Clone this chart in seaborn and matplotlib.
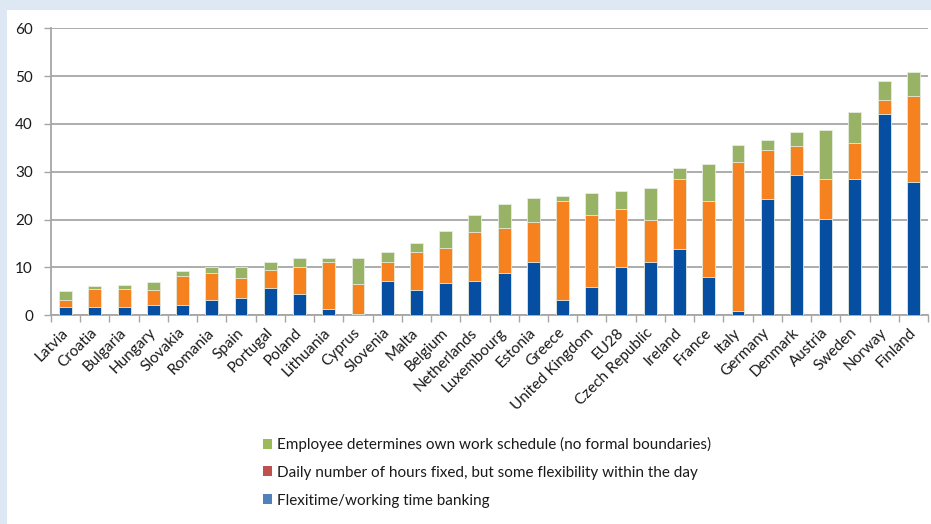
import matplotlib
matplotlib.use("Agg")
import matplotlib.pyplot as plt
import seaborn as sns
import pandas as pd
import numpy as np
from matplotlib.patches import Patch, Rectangle

countries = ["Latvia", "Croatia", "Bulgaria", "Hungary", "Slovakia", "Romania", "Spain",
             "Portugal", "Poland", "Lithuania", "Cyprus", "Slovenia", "Malta", "Belgium",
             "Netherlands", "Luxembourg", "Estonia", "Greece", "United Kingdom", "EU28",
             "Czech Republic", "Ireland", "France", "Italy", "Germany", "Denmark", "Austria",
             "Sweden", "Norway", "Finland"]
flexitime = [1.7, 1.8, 1.8, 2.1, 2.2, 3.2, 3.7, 5.8, 4.5, 1.3, 0.3, 7.2, 5.2, 6.7,
             7.2, 8.9, 11.1, 3.2, 5.9, 10.2, 11.2, 13.9, 8.1, 1.0, 24.3, 29.3, 20.2,
             28.4, 42.0, 27.9]
daily_fixed = [1.6, 3.8, 3.7, 3.1, 6.1, 5.6, 4.0, 3.6, 5.7, 9.8, 6.3, 4.0, 8.0, 7.3,
               10.3, 9.3, 8.5, 20.8, 15.0, 12.0, 8.7, 14.5, 15.7, 31.0, 10.3, 6.0, 8.3,
               7.6, 3.0, 17.9]
own_schedule = [1.7, 0.5, 0.9, 1.8, 1.0, 1.2, 2.4, 1.7, 1.7, 0.9, 5.4, 2.1, 2.0, 3.6,
                3.4, 5.0, 4.9, 0.9, 4.6, 3.7, 6.7, 2.3, 7.8, 3.5, 2.0, 3.0, 10.2,
                6.4, 4.0, 5.1]
legend_labels = ["Employee determines own work schedule (no formal boundaries)",
                 "Daily number of hours fixed, but some flexibility within the day",
                 "Flexitime/working time banking"]
y_ticks = [0, 10, 20, 30, 40, 50, 60]

df = pd.DataFrame({"country": countries, "flexi": flexitime,
                   "daily": daily_fixed, "own": own_schedule})
df["lvl_blue"] = df["flexi"]
df["lvl_orange"] = df["flexi"] + df["daily"]
df["lvl_green"] = df["lvl_orange"] + df["own"]

sns.set_theme(style="white")
plt.rcParams["font.family"] = ["Lato", "DejaVu Sans"]

W, H = 931, 524
fig = plt.figure(figsize=(W / 100, H / 100), dpi=100, facecolor="white")
# light blue frame strips
bg = "#DEE8F4"
fig.patches.append(Rectangle((0, 1 - 10 / H), 1, 10 / H, transform=fig.transFigure,
                             facecolor=bg, edgecolor="none", zorder=0))
fig.patches.append(Rectangle((0, 0), 7 / W, 1, transform=fig.transFigure,
                             facecolor=bg, edgecolor="none", zorder=0))

left, right = 51 / W, 928 / W
bottom, top = (H - 315.3) / H, (H - 28.3) / H
ax = fig.add_axes([left, bottom, right - left, top - bottom])
ax.set_facecolor("white")

c_green, c_orange, c_blue = "#98B365", "#F5821F", "#054EA2"
for col, c in [("lvl_green", c_green), ("lvl_orange", c_orange), ("lvl_blue", c_blue)]:
    sns.barplot(data=df, x="country", y=col, color=c, saturation=1, width=0.44,
                edgecolor="#E6EDE0", linewidth=0.6, ax=ax, zorder=3)

ax.set_xlim(-0.5, len(countries) - 0.5)
ax.set_ylim(0, 60)
ax.set_yticks(y_ticks)
ax.set_xlabel("")
ax.set_ylabel("")
grid_c = "#A6A6A6"
ax.yaxis.grid(True, color=grid_c, linewidth=1.3, zorder=0)
ax.xaxis.grid(False)
ax.set_axisbelow(True)
for s in ["top", "right"]:
    ax.spines[s].set_visible(False)
for s in ["left", "bottom"]:
    ax.spines[s].set_color(grid_c)
    ax.spines[s].set_linewidth(1.3)

ax.tick_params(axis="y", which="major", left=True, length=5, width=1.0, color=grid_c,
               labelsize=11, labelcolor="#1A1A1A", pad=8)
ax.set_xticks(np.arange(len(countries)))
ax.set_xticks(np.arange(len(countries) + 1) - 0.5, minor=True)
ax.tick_params(axis="x", which="major", bottom=False, length=0, pad=11,
               labelsize=11, labelcolor="#1A1A1A")
ax.tick_params(axis="x", which="minor", bottom=True, length=5, width=1.0, color=grid_c)
ax.set_xticklabels(countries, rotation=45, ha="right", va="center",
                   rotation_mode="anchor")

handles = [Patch(facecolor="#9BBB59", edgecolor="none"),
           Patch(facecolor="#C0504D", edgecolor="none"),
           Patch(facecolor="#4F81BD", edgecolor="none")]
fig.legend(handles, legend_labels, loc="upper left",
           bbox_to_anchor=(263 / W, 1 - 437 / H), frameon=False, fontsize=11,
           handlelength=0.62, handleheight=0.62, handletextpad=0.3,
           labelspacing=0.9, borderpad=0, borderaxespad=0, labelcolor="#1A1A1A")

fig.savefig("out.png", dpi=100, facecolor="white")
